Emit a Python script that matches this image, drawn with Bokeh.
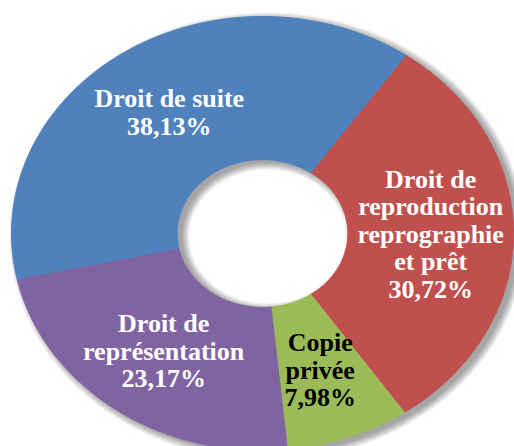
import numpy as np
from bokeh.plotting import figure
from bokeh.models import Range1d, ColumnDataSource
from bokeh.core.properties import value
from bokeh.embed import file_html
from bokeh.resources import INLINE

# ---- data ----
categories = ["Droit de suite", "Droit de\nreproduction\nreprographie\net prêt",
              "Copie\nprivée", "Droit de\nreprésentation"]
values = [38.13, 30.72, 7.98, 23.17]
colors = ["#4F81BD", "#C0504D", "#9BBB59", "#8064A2"]
label_colors = ["#FFFFFF", "#FFFFFF", "#000000", "#FFFFFF"]

# ---- layout / style ----
W, H = 514, 446
X0, Y0 = 0, 0              # figure origin in the screenshot
CX, CY = 262.0, 233.0      # ellipse centre in picture px
RX, RY = 251.0, 217.0      # outer radii in px
HOLE = 0.34                # inner radius fraction
START = -102.3             # clockwise degrees from 12 o'clock
LABEL_R = 0.67

p = figure(width=W, height=H, output_backend="svg", toolbar_location=None,
           x_range=Range1d((X0 - CX) / RX, (X0 + W - CX) / RX),
           y_range=Range1d(-(Y0 + H - CY) / RY, -(Y0 - CY) / RY),
           x_axis_type=None, y_axis_type=None, min_border=0)
p.grid.visible = False
p.outline_line_color = None
p.background_fill_color = "white"
p.border_fill_color = "white"


def ring_poly(ro_x, ro_y, ri_x, ri_y, ox, oy, n=240):
    t = np.linspace(0, 2 * np.pi, n)
    xo = ox + ro_x * np.sin(t)
    yo = oy + ro_y * np.cos(t)
    xi = ox + ri_x * np.sin(t[::-1])
    yi = oy + ri_y * np.cos(t[::-1])
    return list(np.concatenate([xo, xi])), list(np.concatenate([yo, yi]))


# soft shadow (offset right/down, layered to fake blur)
sx, sy = [], []
for k in range(8):
    ox = 5.0 / RX
    oy = -3.0 / RY
    xs_, ys_ = ring_poly(1 + k / RX, 1 + k / RY,
                         HOLE - k / RX, HOLE - k / RY, ox, oy)
    sx.append(xs_)
    sy.append(ys_)
p.patches(sx, sy, fill_color="#000000", fill_alpha=0.05, line_color=None)

# slices
total = sum(values)
xs, ys, lx, ly = [], [], [], []
a = START
for v in values:
    span = 360.0 * v / total
    t = np.radians(np.linspace(a, a + span, 120))
    xo = np.sin(t)
    yo = np.cos(t)
    xi = HOLE * np.sin(t[::-1])
    yi = HOLE * np.cos(t[::-1])
    xs.append(list(np.concatenate([xo, xi])))
    ys.append(list(np.concatenate([yo, yi])))
    m = np.radians(a + span / 2)
    lx.append(LABEL_R * np.sin(m))
    ly.append(LABEL_R * np.cos(m))
    a += span

src = ColumnDataSource(dict(xs=xs, ys=ys, color=colors))
p.patches("xs", "ys", source=src, fill_color="color", line_color="color", line_width=1)

texts = [f"{c}\n{v:.2f}".replace(".", ",") + "%" for c, v in zip(categories, values)]
lsrc = ColumnDataSource(dict(x=lx, y=ly, text=texts, color=label_colors))
p.text("x", "y", text="text", source=lsrc, text_color="color",
       text_font=value("Liberation Serif"), text_font_style="bold",
       text_font_size="26px", text_align="center", text_baseline="middle",
       text_line_height=0.95)

open("out.html", "w").write(file_html(p, INLINE))
